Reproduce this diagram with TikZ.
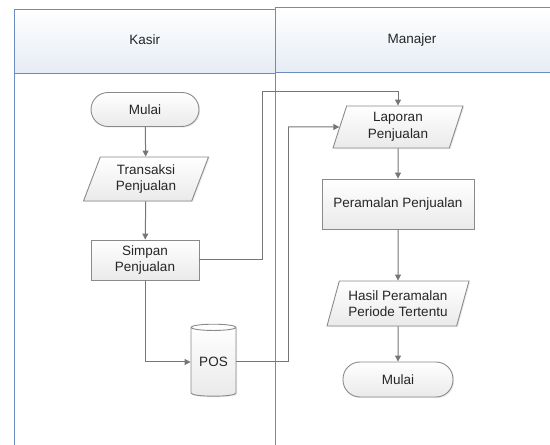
\documentclass[tikz,border=0pt]{standalone}
\usepackage{fontspec}
\setmainfont{Liberation Sans}
\usetikzlibrary{shapes.geometric,arrows.meta,shadows}
\definecolor{lane}{HTML}{6A8CC0}
\definecolor{hdr}{HTML}{E6ECF5}
\definecolor{nborder}{HTML}{8A8A8A}
\definecolor{nfill}{HTML}{EAEAEA}
\definecolor{conn}{HTML}{767676}
\definecolor{txt}{HTML}{262626}
\tikzset{
  base/.style={draw=nborder, line width=0.9pt, top color=white, bottom color=nfill,
    text=txt, font=\fontsize{13.5}{16.5}\selectfont, align=center, inner sep=0pt,
    drop shadow={opacity=0.15, shadow xshift=1.2pt, shadow yshift=-1.2pt}},
  term/.style={base, rounded corners=17pt, minimum width=108pt, minimum height=34pt},
  proc/.style={base, minimum width=108pt, minimum height=40pt},
  io/.style={base, trapezium, trapezium stretches body=true, minimum height=44pt},
  db/.style={base, cylinder, shape border rotate=90, aspect=0.22, minimum width=45pt, minimum height=72pt},
  conn/.style={draw=conn, line width=1pt, -{Triangle[width=6pt,length=6pt]}},
  plain/.style={draw=conn, line width=1pt},
  hdrbox/.style={draw=lane, line width=0.9pt, top color=white, bottom color=hdr},
  lanel/.style={draw=lane, line width=0.9pt},
  lbl/.style={text=txt, font=\fontsize{13.5}{16}\selectfont}
}
\begin{document}
\begin{tikzpicture}[x=1pt,y=1pt]
\useasboundingbox (0,0) rectangle (550,445);
% lanes
\draw[lanel] (14.7,372) -- (14.7,0);
\draw[lanel] (275,373) -- (275,0);
\path[hdrbox] (14.7,436) rectangle (275,372);
\path[hdrbox] (275,437.7) rectangle (560,372.7);
\node[lbl] (kasir) at (144.8,405) {Kasir};
\node[lbl] (manajer) at (412,405) {Manajer};
% nodes
\node[term] (mulai1) at (145,335.5) {Mulai};
\node[io, trapezium left angle=60, trapezium right angle=120, minimum width=125pt] (trans) at (146,266) {Transaksi\\Penjualan};
\node[proc] (simpan) at (145,185) {Simpan\\Penjualan};
\node[db] (pos) at (213.5,83) {POS};
\node[io, trapezium left angle=64.5, trapezium right angle=115.5, minimum width=130pt, minimum height=42pt] (lap) at (398,318) {Laporan\\Penjualan};
\node[proc, minimum width=152pt, minimum height=50pt] (peram) at (398,241) {Peramalan Penjualan};
\node[io, trapezium left angle=65, trapezium right angle=115, minimum width=142pt, minimum height=45pt] (hasil) at (398,141.5) {Hasil Peramalan\\Periode Tertentu};
\node[term, minimum width=110pt, minimum height=35pt] (mulai2) at (398,65.5) {Mulai};
% connectors
\coordinate (b1) at (262,353);
\coordinate (b2) at (288,318);
\draw[conn] (mulai1) -- (trans);
\draw[conn] (trans) -- (simpan);
\draw[conn] (simpan.south) |- (pos.west);
\draw[conn] (simpan.east) -| (b1) -| (lap.north);
\draw[plain] (pos.east) -| (b2);
\draw[conn] (b2) -- (lap.west);
\draw[conn] (lap) -- (peram);
\draw[conn] (peram) -- (hasil);
\draw[conn] (hasil) -- (mulai2);
\end{tikzpicture}
\end{document}
